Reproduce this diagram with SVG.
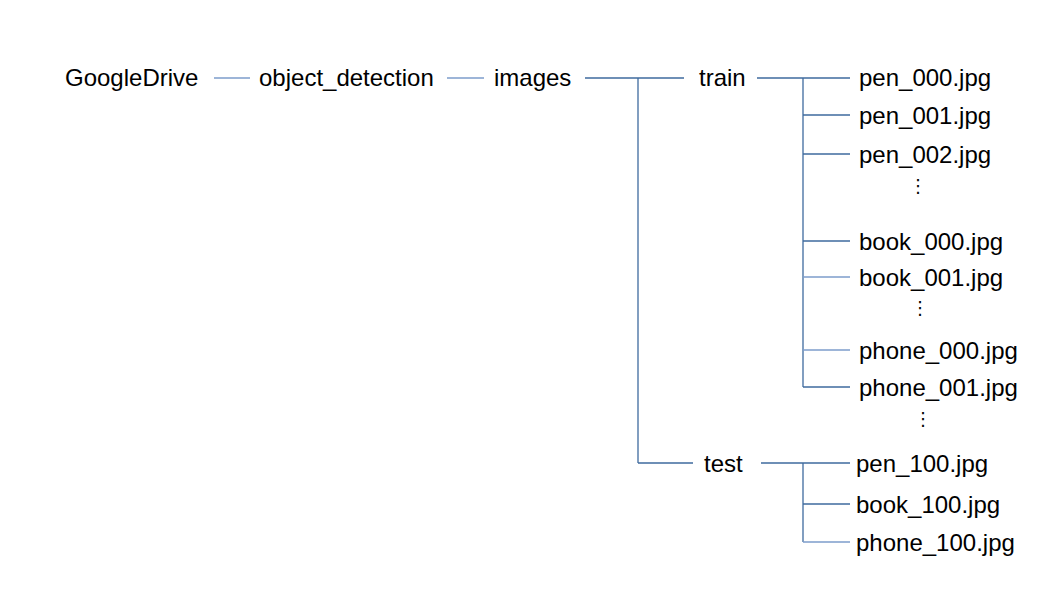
<svg xmlns="http://www.w3.org/2000/svg" width="1058" height="595" viewBox="0 0 1058 595">
<style>
text{font-family:"Liberation Sans",Arial,sans-serif;font-size:24px;fill:#000}
.d{font-family:"DejaVu Sans",sans-serif;font-size:18px}
.c line{stroke:#3e6a9e;stroke-width:1.3}
.c line.l{stroke:#7c9ccb}
</style>
<rect width="1058" height="595" fill="#fff"/>
<g class="c" id="connectors">
<line class="l" x1="214" y1="78" x2="250" y2="78"/>
<line class="l" x1="447" y1="78" x2="484" y2="78"/>
<line x1="585" y1="78" x2="684" y2="78"/>
<line x1="638" y1="78" x2="638" y2="463"/>
<line x1="638" y1="463" x2="693" y2="463"/>
<line x1="757" y1="78" x2="850" y2="78"/>
<line x1="803" y1="78" x2="803" y2="387"/>
<line x1="803" y1="115" x2="850" y2="115"/>
<line x1="803" y1="154" x2="850" y2="154"/>
<line x1="803" y1="241" x2="850" y2="241"/>
<line class="l" x1="803" y1="277" x2="850" y2="277"/>
<line class="l" x1="803" y1="350" x2="850" y2="350"/>
<line x1="803" y1="387" x2="850" y2="387"/>
<line x1="761" y1="463" x2="850" y2="463"/>
<line x1="803" y1="463" x2="803" y2="542"/>
<line x1="803" y1="504" x2="850" y2="504"/>
<line class="l" x1="803" y1="542" x2="850" y2="542"/>
</g>
<g id="n-googledrive"><text x="65" y="86">GoogleDrive</text></g>
<g id="n-object_detection"><text x="259" y="86">object_detection</text></g>
<g id="n-images"><text x="494" y="86">images</text></g>
<g id="n-train"><text x="699" y="86">train</text></g>
<g id="n-test"><text x="704" y="472">test</text></g>
<g id="n-pen000"><text x="859" y="86">pen_000.jpg</text></g>
<g id="n-pen001"><text x="859" y="124">pen_001.jpg</text></g>
<g id="n-pen002"><text x="859" y="163">pen_002.jpg</text></g>
<g id="n-dots1"><text class="d" x="918" y="192" text-anchor="middle">⋮</text></g>
<g id="n-book000"><text x="859" y="250">book_000.jpg</text></g>
<g id="n-book001"><text x="859" y="286">book_001.jpg</text></g>
<g id="n-dots2"><text class="d" x="920" y="314" text-anchor="middle">⋮</text></g>
<g id="n-phone000"><text x="859" y="359">phone_000.jpg</text></g>
<g id="n-phone001"><text x="859" y="396">phone_001.jpg</text></g>
<g id="n-dots3"><text class="d" x="923" y="425" text-anchor="middle">⋮</text></g>
<g id="n-pen100"><text x="856" y="472">pen_100.jpg</text></g>
<g id="n-book100"><text x="856" y="513">book_100.jpg</text></g>
<g id="n-phone100"><text x="856" y="551">phone_100.jpg</text></g>
</svg>
